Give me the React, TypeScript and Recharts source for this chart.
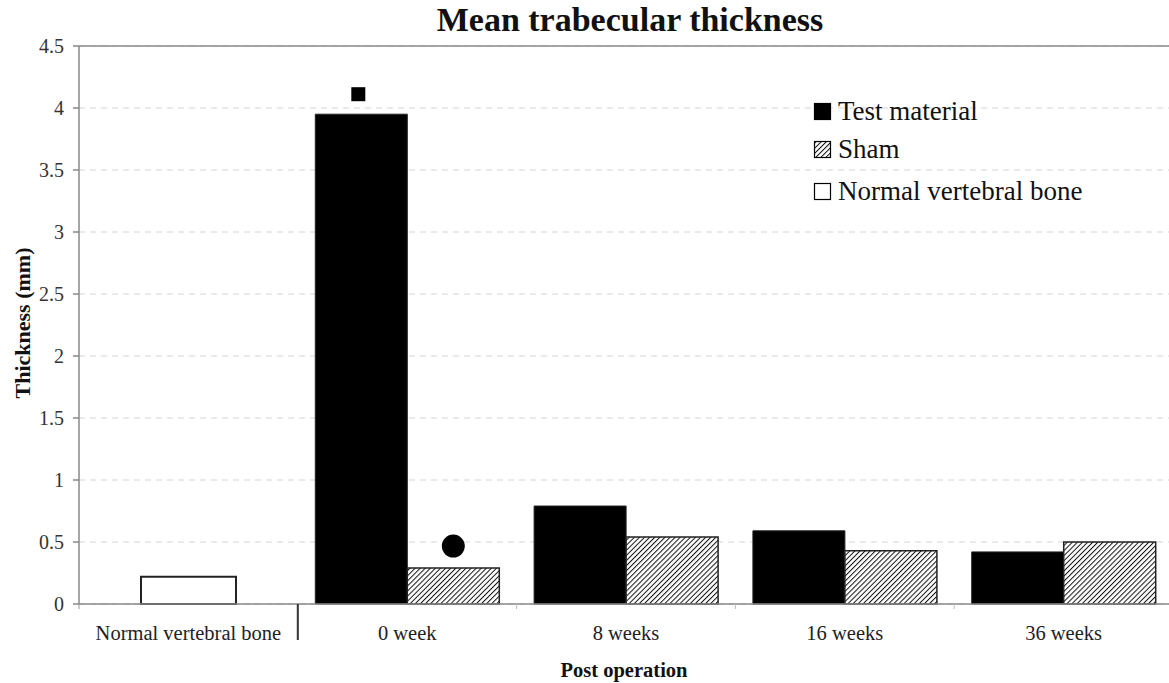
import {
  BarChart,
  Bar,
  XAxis,
  YAxis,
  CartesianGrid,
  ReferenceLine,
  LabelList,
  Label,
} from 'recharts';

const categories = ['Normal vertebral bone', '0 week', '8 weeks', '16 weeks', '36 weeks'];
const testMaterial = [null, 3.95, 0.79, 0.59, 0.42];
const sham = [null, 0.29, 0.54, 0.43, 0.5];
const normalBone = [0.22, null, null, null, null];
// significance markers drawn above bars
const testMarkers = ['', 'square', '', '', ''];
const shamMarkers = ['', 'circle', '', '', ''];
const yTicks = [0, 0.5, 1, 1.5, 2, 2.5, 3, 3.5, 4, 4.5];

const data = categories.map((name, i) => ({
  name,
  test: testMaterial[i],
  sham: sham[i],
  normal: normalBone[i],
}));

const W = 1169;
const H = 683;
const LEFT = 79;
const RIGHT = -4; // plot runs slightly past the picture edge
const PLOT_W = W - LEFT - RIGHT;
const BAND = PLOT_W / categories.length;
const FONT = '"Liberation Serif", "DejaVu Serif", serif';

function XTick(props: any) {
  const { x, y, payload, index } = props;
  const right = x + BAND / 2;
  return (
    <g>
      <text x={x} y={y + 28} textAnchor="middle" fontFamily={FONT} fontSize={20.5} fill="#222">
        {payload.value}
      </text>
      {index === 0 && (
        <line x1={x - BAND / 2} x2={x - BAND / 2} y1={y - 8} y2={y - 3} stroke="#999" />
      )}
      {index === 0 ? (
        <line x1={right} x2={right} y1={y - 8} y2={y + 28} stroke="#333" strokeWidth={2} />
      ) : (
        <line x1={right} x2={right} y1={y - 8} y2={y - 3} stroke="#bbb" />
      )}
    </g>
  );
}

// LabelList skips empty bars, so look the marker up by category name
function TestMark(props: any) {
  const { x, y, width, value } = props;
  if (testMarkers[categories.indexOf(value)] !== 'square') return null;
  const cx = x + width / 2 - 3;
  return <rect x={cx - 7} y={y - 27} width={14} height={14} fill="#000" />;
}

function ShamMark(props: any) {
  const { x, y, width, value } = props;
  if (shamMarkers[categories.indexOf(value)] !== 'circle') return null;
  return <circle cx={x + width / 2} cy={y - 22} r={11.5} fill="#000" />;
}

const legendItems = [
  { label: 'Test material', fill: '#000' },
  { label: 'Sham', fill: 'url(#hatch)' },
  { label: 'Normal vertebral bone', fill: '#fff' },
];
const legendRows = [111.5, 149.5, 191.5];

export default function App() {
  return (
    <div style={{ position: 'absolute', left: 0, top: 0, width: W, height: H, background: '#fff', overflow: 'hidden' }}>
      <BarChart
        width={W}
        height={H}
        data={data}
        margin={{ top: 46, right: RIGHT, bottom: 0, left: 0 }}
        barCategoryGap="8%"
        barGap={0}
      >
        <defs>
          <pattern id="hatch" width="3.6" height="3.6" patternUnits="userSpaceOnUse" patternTransform="rotate(45)">
            <rect width="3.6" height="3.6" fill="#fff" />
            <line x1="0" y1="0" x2="0" y2="3.6" stroke="#111" strokeWidth={2} />
          </pattern>
        </defs>
        <text x={630} y={31} textAnchor="middle" fontFamily={FONT} fontWeight="bold" fontSize={34} fill="#111">
          Mean trabecular thickness
        </text>
        <CartesianGrid horizontal vertical={false} stroke="#d4d4d4" strokeDasharray="6 5" />
        <ReferenceLine y={4.5} stroke="#888" strokeWidth={1.5} />
        <XAxis
          dataKey="name"
          height={79}
          stroke="#888"
          strokeWidth={1.5}
          tickLine={false}
          tick={<XTick />}
          interval={0}
        >
          <Label
            content={() => (
              <text x={624} y={677} textAnchor="middle" fontFamily={FONT} fontWeight="bold" fontSize={20.5} fill="#111">
                Post operation
              </text>
            )}
          />
        </XAxis>
        <XAxis xAxisId="n" dataKey="name" hide />
        <YAxis
          width={LEFT}
          domain={[0, 4.5]}
          ticks={yTicks}
          stroke="#888"
          strokeWidth={1.5}
          tickSize={6}
          tickMargin={9}
          tick={{ fontFamily: FONT, fontSize: 20, fill: '#333' }}
        >
          <Label
            content={() => (
              <text
                x={30}
                y={323}
                transform="rotate(-90, 30, 323)"
                textAnchor="middle"
                fontFamily={FONT}
                fontWeight="bold"
                fontSize={22}
                fill="#111"
              >
                Thickness (mm)
              </text>
            )}
          />
        </YAxis>
        <Bar dataKey="test" name="Test material" fill="#000" stroke="#222" strokeWidth={1} isAnimationActive={false}>
          <LabelList dataKey="name" content={<TestMark />} />
        </Bar>
        <Bar dataKey="sham" name="Sham" fill="url(#hatch)" stroke="#222" strokeWidth={1.5} isAnimationActive={false}>
          <LabelList dataKey="name" content={<ShamMark />} />
        </Bar>
        <Bar
          dataKey="normal"
          name="Normal vertebral bone"
          xAxisId="n"
          barSize={95}
          fill="#fff"
          stroke="#222"
          strokeWidth={2}
          isAnimationActive={false}
        />
        {legendItems.map((item, i) => (
          <g key={item.label}>
            <rect x={814.5} y={legendRows[i] - 8} width={16} height={16} fill={item.fill} stroke="#000" strokeWidth={1.2} />
            <text x={838} y={legendRows[i] + 8} fontFamily={FONT} fontSize={27} fill="#111">
              {item.label}
            </text>
          </g>
        ))}
      </BarChart>
    </div>
  );
}
